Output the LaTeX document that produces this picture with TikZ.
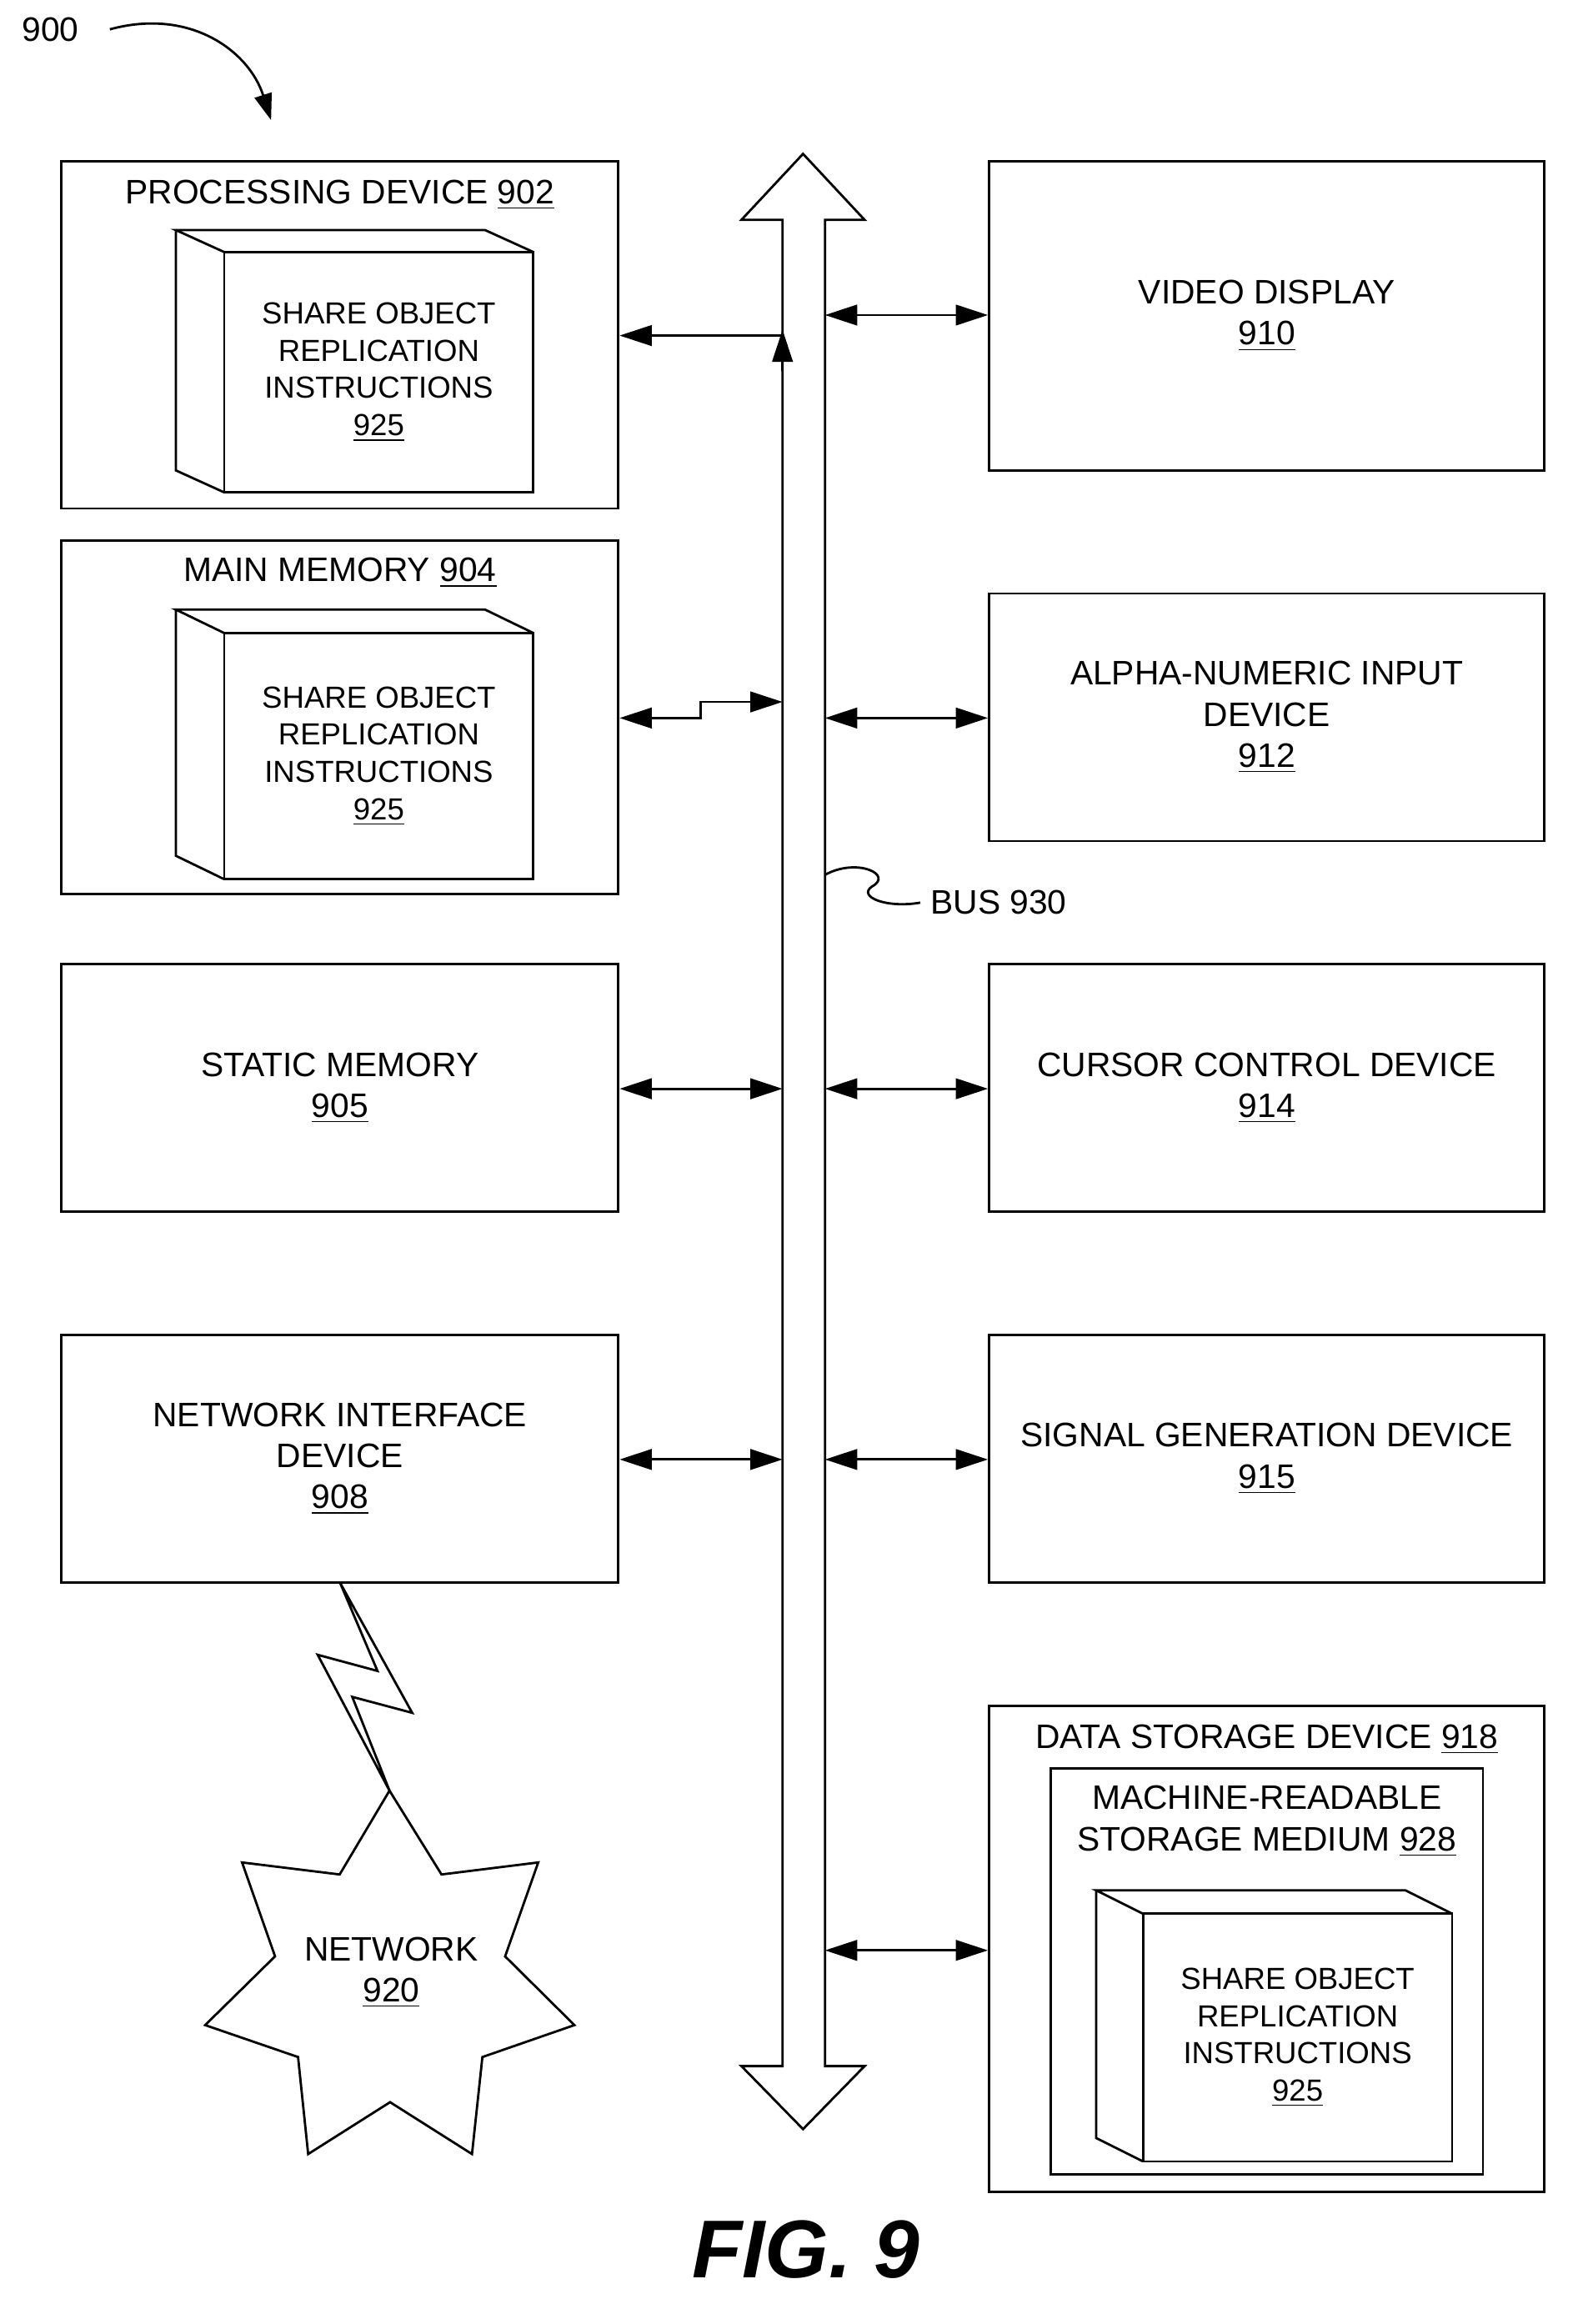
\documentclass[tikz,border=0pt]{standalone}
\usepackage{fontspec}
\setmainfont{Liberation Sans}
\usetikzlibrary{arrows.meta}
\begin{document}
\begin{tikzpicture}[x=0.5pt,y=-0.5pt,
 box/.style={draw,line width=0.8pt,inner sep=0pt},
 lbl/.style={align=center,font=\fontsize{11.6}{14}\selectfont},
 slbl/.style={align=center,font=\fontsize{10.4}{12.7}\selectfont},
 arr/.style={line width=0.8pt,{Triangle[length=11pt,width=7pt]}-{Triangle[length=11pt,width=7pt]}},
 ln/.style={line width=0.8pt}]
\useasboundingbox (0,0) rectangle (1080,1586);
\node[lbl,anchor=west] (n900) at (8,20) {900};
\coordinate (c900a) at (75,20);
\coordinate (c900b) at (185,82);
\draw[ln,-{Triangle[length=9pt,width=6pt]}] (c900a) .. controls (130,5) and (170,35) .. (c900b);
% Bus
\draw[line width=0.8pt,fill=white] (534,1410) -- (534,150) -- (506,150) -- (548,105) -- (590,150) -- (563,150) -- (563,1410) -- (590,1410) -- (548,1453) -- (506,1410) -- (534,1410) -- cycle;
% Left boxes
\node[box,minimum width=190pt,minimum height=118.5pt] (pd) at (232,228.5) {};
\node[lbl] (pdt) at (232,133) {PROCESSING DEVICE \underline{902}};
\node[box,minimum width=190pt,minimum height=120.5pt] (mm) at (232,489.5) {};
\node[lbl] (mmt) at (232,391) {MAIN MEMORY \underline{904}};
\node[box,minimum width=190pt,minimum height=84.5pt,lbl] (sm) at (232,742.5) {STATIC MEMORY\\\underline{905}};
\node[box,minimum width=190pt,minimum height=84.5pt,lbl] (ni) at (232,995.5) {NETWORK INTERFACE\\DEVICE\\\underline{908}};
% Right boxes
\node[box,minimum width=189.5pt,minimum height=105.5pt,lbl] (vd) at (864.5,215.5) {VIDEO DISPLAY\\\underline{910}};
\node[box,minimum width=189.5pt,minimum height=84.5pt,lbl] (an) at (864.5,489.5) {ALPHA-NUMERIC INPUT\\DEVICE\\\underline{912}};
\node[box,minimum width=189.5pt,minimum height=84.5pt,lbl] (cc) at (864.5,742.5) {CURSOR CONTROL DEVICE\\\underline{914}};
\node[box,minimum width=189.5pt,minimum height=84.5pt,lbl] (sg) at (864.5,995.5) {SIGNAL GENERATION DEVICE\\\underline{915}};
\node[box,minimum width=189.5pt,minimum height=166pt] (ds) at (864.5,1330) {};
\node[lbl] (dst) at (864.5,1187) {DATA STORAGE DEVICE \underline{918}};
\node[box,minimum width=147.5pt,minimum height=138.5pt] (mr) at (864.5,1345.5) {};
\node[lbl] (mrt) at (864.5,1243) {MACHINE-READABLE\\STORAGE MEDIUM \underline{928}};
% Cubes
\draw[ln] (153,172) -- (120,157) -- (331,157) -- (364,172) (120,157) -- (120,321) -- (153,336);
\node[box,minimum width=105.5pt,minimum height=82pt,slbl] (c1) at (258.5,254) {SHARE OBJECT\\REPLICATION\\INSTRUCTIONS\\\underline{925}};
\draw[ln] (153,432) -- (120,416) -- (331,416) -- (364,432) (120,416) -- (120,584) -- (153,600);
\node[box,minimum width=105.5pt,minimum height=84pt,slbl] (c2) at (258.5,516) {SHARE OBJECT\\REPLICATION\\INSTRUCTIONS\\\underline{925}};
\draw[ln] (780,1306) -- (748,1290) -- (959,1290) -- (991,1306) (748,1290) -- (748,1459) -- (780,1475);
\node[box,minimum width=105.5pt,minimum height=84.5pt,slbl] (c3) at (885.5,1390.5) {SHARE OBJECT\\REPLICATION\\INSTRUCTIONS\\\underline{925}};
% Connectors left
\coordinate (bl1) at (534,229);
\draw[ln,-{Triangle[length=11pt,width=7pt]}] (bl1) -- (pd.east |- bl1);
\draw[ln,-{Triangle[length=11pt,width=7pt]}] ([yshift=-12pt]bl1) -- ([yshift=2pt]bl1);
\coordinate (bl2) at (534,479);
\coordinate (bl2a) at (478,479);
\coordinate (bl2b) at (478,490);
\draw[arr] (mm.east |- bl2b) -- (bl2b) -- (bl2a) -- (bl2);
\coordinate (bl3) at (534,743);
\draw[arr] (sm.east |- bl3) -- (bl3);
\coordinate (bl4) at (534,996);
\draw[arr] (ni.east |- bl4) -- (bl4);
% Connectors right
\coordinate (br1) at (563,215);
\draw[arr] (br1) -- (vd.west |- br1);
\coordinate (br2) at (563,490);
\draw[arr] (br2) -- (an.west |- br2);
\coordinate (br3) at (563,743);
\draw[arr] (br3) -- (cc.west |- br3);
\coordinate (br4) at (563,996);
\draw[arr] (br4) -- (sg.west |- br4);
\coordinate (br5) at (563,1331);
\draw[arr] (br5) -- (ds.west |- br5);
% Bus label
\node[lbl,anchor=west] (bus) at (628,616) {BUS 930};
\coordinate (bs) at (563,597);
\draw[ln] (bs) .. controls (585,585) and (610,597) .. (595,605) .. controls (585,612) and (605,620) .. (bus.west);
% Network
\draw[ln] (265.8,1222) -- (301.3,1279.2) -- (367.3,1271) -- (344.7,1335.1) -- (392,1382) -- (329.2,1403.8) -- (322.1,1470) -- (266.2,1434.6) -- (210.3,1470) -- (203.4,1403.8) -- (140,1382) -- (187.7,1335.1) -- (165.2,1271) -- (231.8,1279.2) -- cycle;
\node[lbl] (nw) at (267,1346) {NETWORK\\\underline{920}};
\coordinate (nwtop) at (265.8,1222);
\coordinate (lz) at (232,1080);
\draw[ln] (lz) -- (257.6,1140.3) -- (216.8,1129.3) -- (nwtop) -- (240.4,1158) -- (281.3,1168.9) -- cycle;
\node[font=\fontsize{28}{34}\selectfont\bfseries\itshape] (fig) at (550,1535) {FIG. 9};
\end{tikzpicture}
\end{document}
